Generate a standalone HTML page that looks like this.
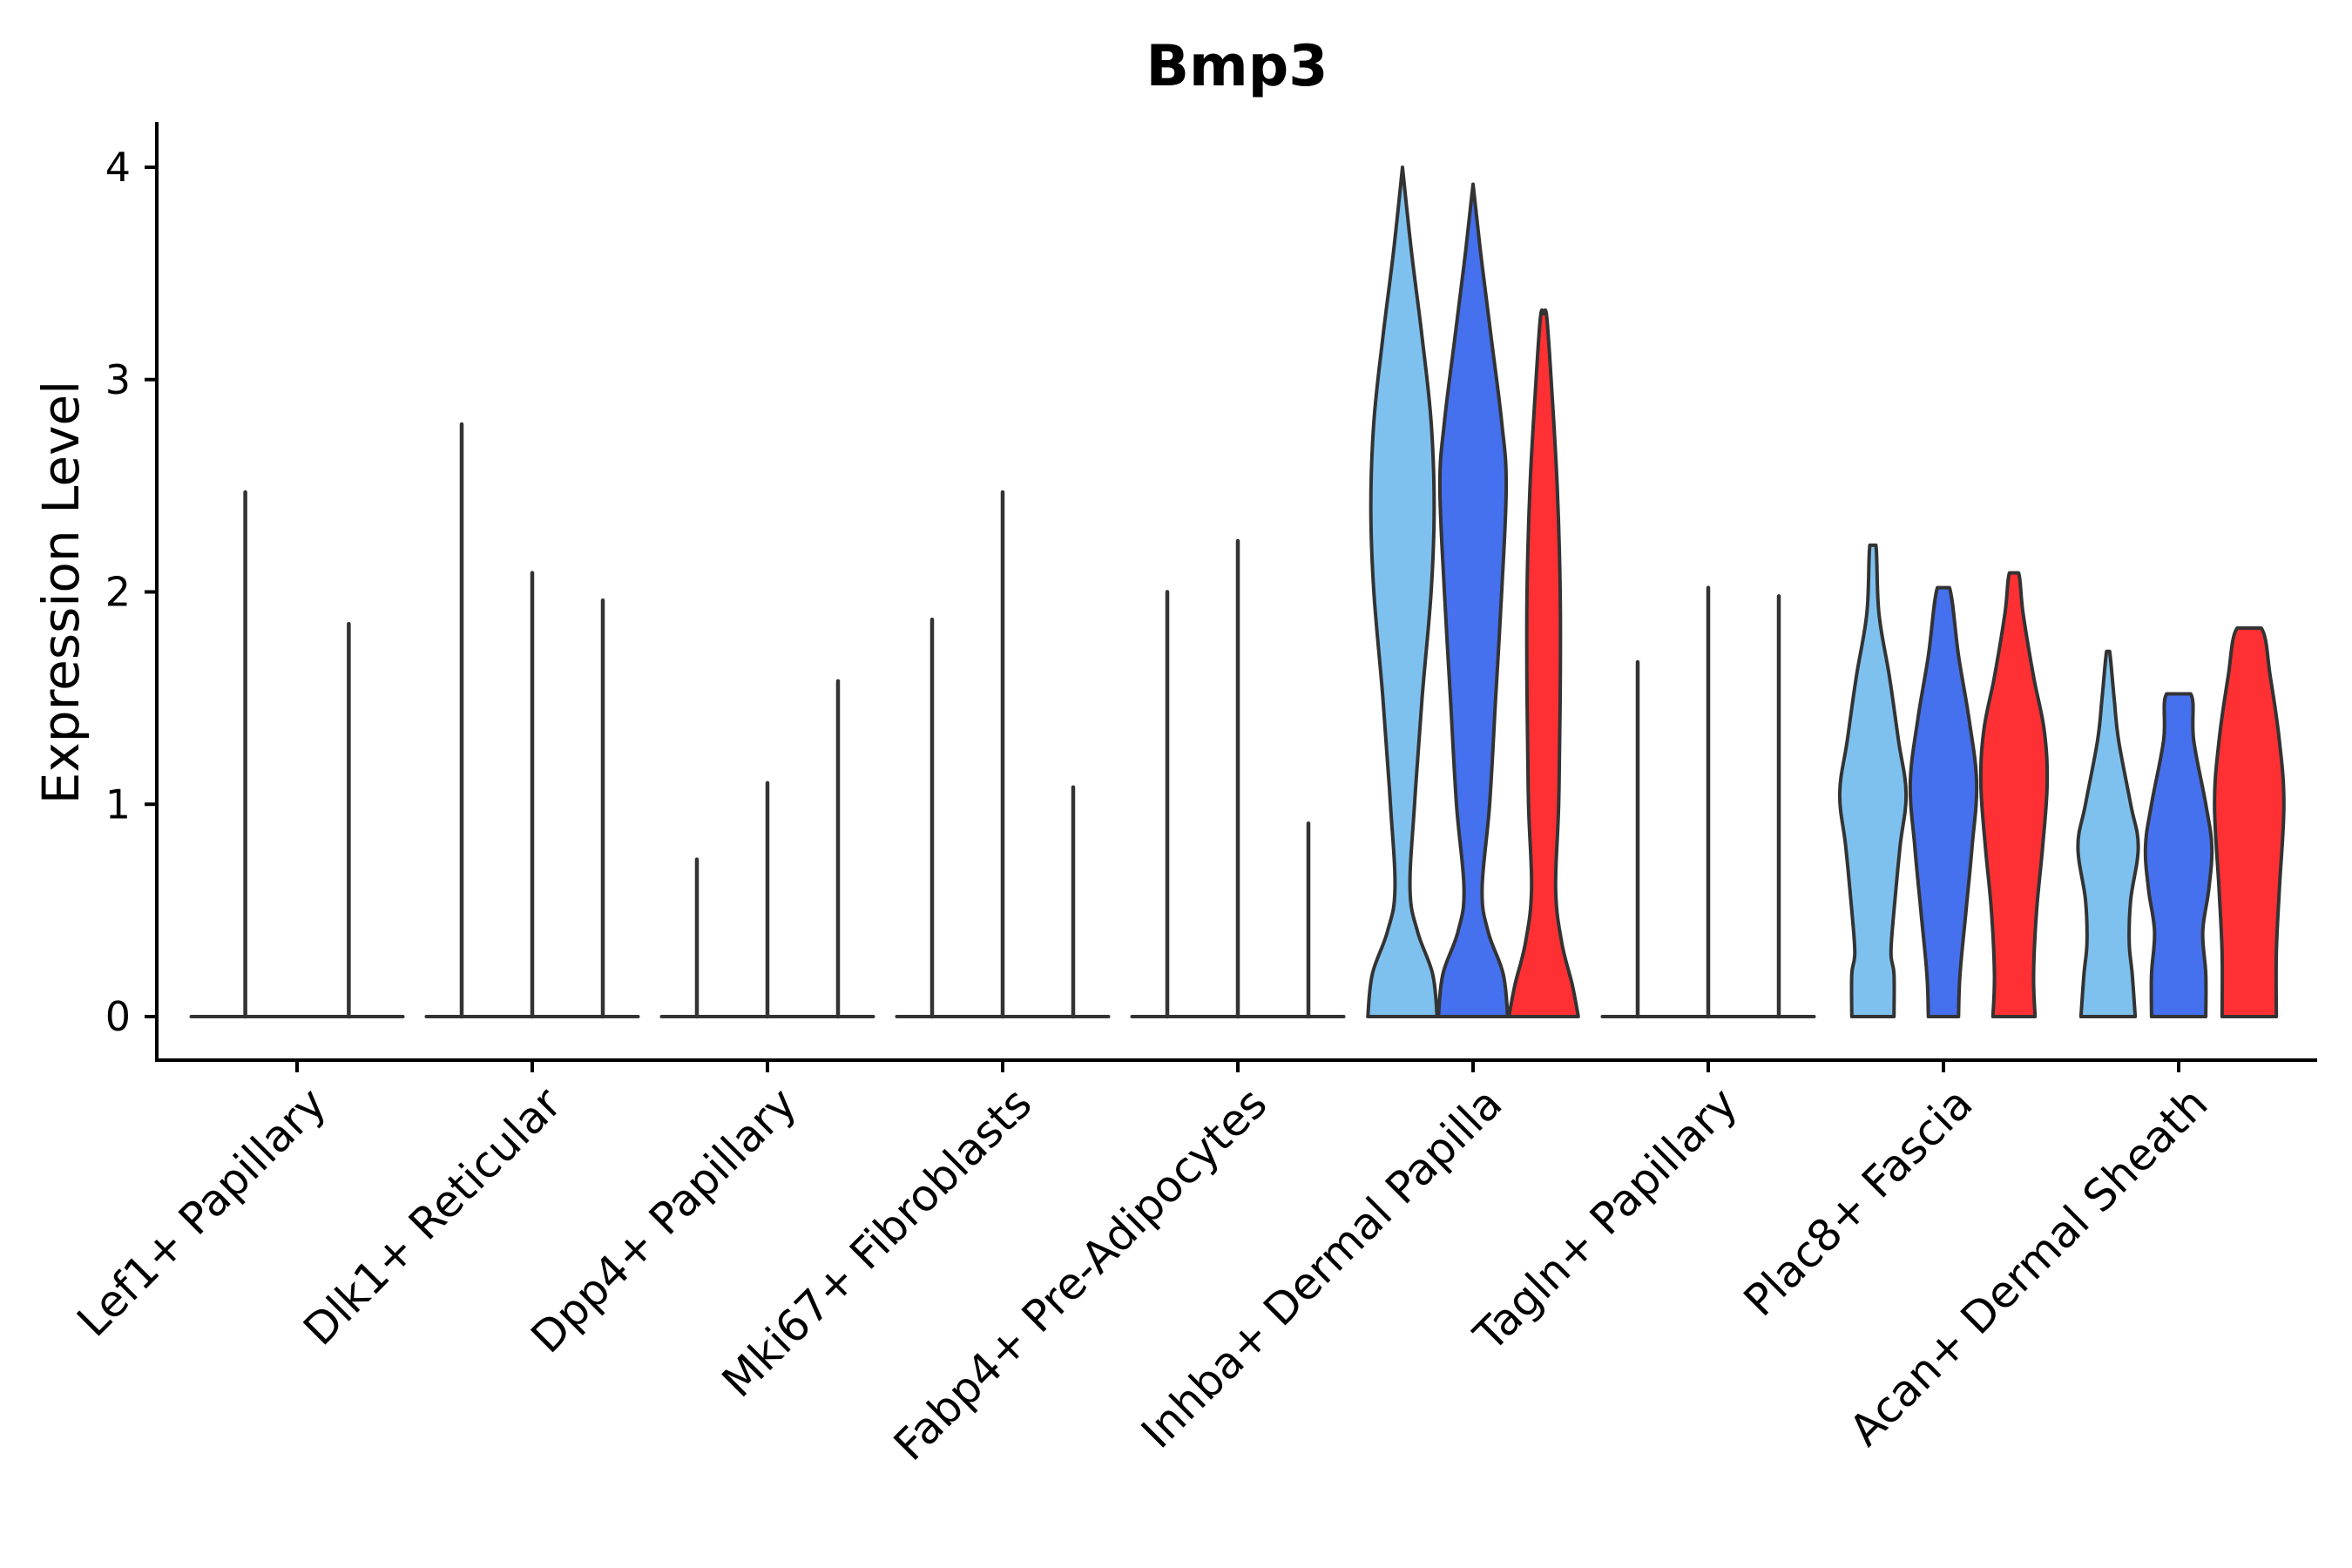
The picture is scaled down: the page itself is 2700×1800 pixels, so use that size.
<!DOCTYPE html>
<html><head><meta charset="utf-8">
<style>
html,body{margin:0;padding:0;background:#fff;}
svg{display:block;font-family:"DejaVu Sans","Liberation Sans",sans-serif;}
</style></head>
<body>
<svg id="chart" width="2700" height="1800" viewBox="0 0 2700 1800" xmlns="http://www.w3.org/2000/svg">
<rect width="2700" height="1800" fill="#fff"/>
<text x="1420" y="98" text-anchor="middle" font-weight="bold" font-size="65" fill="#000">Bmp3</text>
<text transform="translate(90,680) rotate(-90)" text-anchor="middle" font-size="58" fill="#000">Expression Level</text>
<g id="marks"></g>
<g id="axes"></g>
</svg>
<script>
const categories = ["Lef1+ Papillary","Dlk1+ Reticular","Dpp4+ Papillary","Mki67+ Fibroblasts","Fabp4+ Pre-Adipocytes","Inhba+ Dermal Papilla","Tagln+ Papillary","Plac8+ Fascia","Acan+ Dermal Sheath"];
const yTicks = [0,1,2,3,4];
const groupColors = ["#7fc1ee","#4570ee","#ff3033"];
// spikes for near-zero violins: [categoryIndex, offset (category units), max value]
const spikeCat = [0,0,1,1,1,2,2,2,3,3,3,4,4,4,6,6,6];
const spikeOff = [-0.22,0.22,-0.3,0,0.3,-0.3,0,0.3,-0.3,0,0.3,-0.3,0,0.3,-0.3,0,0.3];
const spikeMax = [2.47,1.85,2.79,2.09,1.96,0.74,1.10,1.58,1.87,2.47,1.08,2.00,2.24,0.91,1.67,2.02,1.98];
const flatCats = [0,1,2,3,4,6];
// full violins: category, group, levels, density
const violinCat = [5,5,5,7,7,7,8,8,8];
const violinGroup = [0,1,2,0,1,2,0,1,2];
const violinLevels = [
 [0,0.2,0.4,0.6,1,1.5,2,2.4,2.8,3.2,3.6,4.0],
 [0,0.2,0.4,0.6,1,1.5,2,2.5,2.8,3.2,3.6,3.92],
 [0,0.15,0.35,0.6,1,1.5,2,2.5,3.0,3.3,3.31],
 [0,0.2,0.3,0.5,0.8,1.05,1.3,1.6,1.9,2.22],
 [0,0.2,0.5,0.8,1.1,1.4,1.7,2.02],
 [0,0.2,0.5,0.8,1.1,1.35,1.6,1.9,2.09],
 [0,0.2,0.35,0.55,0.8,1.0,1.3,1.5,1.72],
 [0,0.2,0.4,0.6,0.8,1.0,1.3,1.52],
 [0,0.3,0.6,1.0,1.3,1.6,1.83]
];
const violinDensity = [
 [23,20,10,5,8,13,19,21,19,13,6,0],
 [23,20,10,6,11,15,19,22,19,12,5,0],
 [23,19,12,8,10,11,11,9,5,2,0],
 [14,14,12,14,18,22,17,11,4,2],
 [10,11,15,19,22,17,10,4],
 [14,13,15,19,22,20,13,6,3],
 [18,16,14,15,20,15,7,4,1],
 [18,18,16,20,22,18,10,8],
 [18,18,20,23,20,14,8]
];
const NS="http://www.w3.org/2000/svg";
const X0=341, CW=270, Y0=1167, YU=243.75;
function xs(i){return X0+i*CW;}
function ys(v){return Y0-v*YU;}
const gOff=[-0.3,0,0.3];
const dScale=CW/156; // density units -> px
const marks=document.getElementById('marks');
const axes=document.getElementById('axes');
function mk(tag,attrs,parent){const e=document.createElementNS(NS,tag);for(const k in attrs)e.setAttribute(k,attrs[k]);parent.appendChild(e);return e;}
flatCats.forEach(c=>{
  const l=mk('line',{x1:xs(c)-0.45*CW,x2:xs(c)+0.45*CW,y1:ys(0),y2:ys(0),stroke:'#333',"stroke-width":4,"stroke-linecap":'round'},marks);
  
  
});
spikeCat.forEach((c,i)=>{
  const l=mk('line',{x1:xs(c+spikeOff[i]),x2:xs(c+spikeOff[i]),y1:ys(0),y2:ys(spikeMax[i]),stroke:'#333',"stroke-width":4.5,"stroke-linecap":'round'},marks);
  
  
});
violinCat.forEach((c,i)=>{
  const cx=xs(c+gOff[violinGroup[i]]);
  const L=violinLevels[i], D=violinDensity[i];
  let right=[],left=[];
  for(let k=0;k<L.length;k++){right.push([cx+D[k]*dScale,ys(L[k])]);}
  for(let k=L.length-1;k>=0;k--){left.push([cx-D[k]*dScale,ys(L[k])]);}
  const pts=right.concat(left);
  let d='M'+pts[0][0]+','+pts[0][1];
  for(let k=1;k<pts.length;k++){
    const p0=pts[Math.max(k-2,0)],p1=pts[k-1],p2=pts[k],p3=pts[Math.min(k+1,pts.length-1)];
    const flat=(k===L.length);
    if(flat){d+=' L'+p2[0]+','+p2[1];continue;}
    const t=0.18;
    d+=' C'+(p1[0]+(p2[0]-p0[0])*t)+','+(p1[1]+(p2[1]-p0[1])*t)+' '+(p2[0]-(p3[0]-p1[0])*t)+','+(p2[1]-(p3[1]-p1[1])*t)+' '+p2[0]+','+p2[1];
  }
  d+=' Z';
  const p=mk('path',{d:d,fill:groupColors[violinGroup[i]],stroke:'#333',"stroke-width":4,"stroke-linejoin":'round'},marks);
  
  
});
const ya=mk('line',{x1:180,x2:180,y1:140,y2:1217,stroke:'#000',"stroke-width":4},axes);


const xa=mk('line',{x1:178,x2:2660,y1:1217,y2:1217,stroke:'#000',"stroke-width":4},axes);


yTicks.forEach(v=>{
  const t=mk('line',{x1:166,x2:180,y1:ys(v),y2:ys(v),stroke:'#000',"stroke-width":4},axes);
  
  
  const tx=mk('text',{x:150,y:ys(v)+16,"text-anchor":'end',"font-size":46,fill:'#000'},axes);
  tx.textContent=v;
  
  
});
categories.forEach((c,i)=>{
  const t=mk('line',{x1:xs(i),x2:xs(i),y1:1217,y2:1231,stroke:'#000',"stroke-width":4},axes);
  
  
  const tx=mk('text',{transform:'translate('+(xs(i)+10)+',1244) rotate(-45)',"text-anchor":'end',"font-size":50,fill:'#000',"dominant-baseline":'hanging'},axes);
  tx.textContent=c;
  
  
});
</script>
</body></html>
